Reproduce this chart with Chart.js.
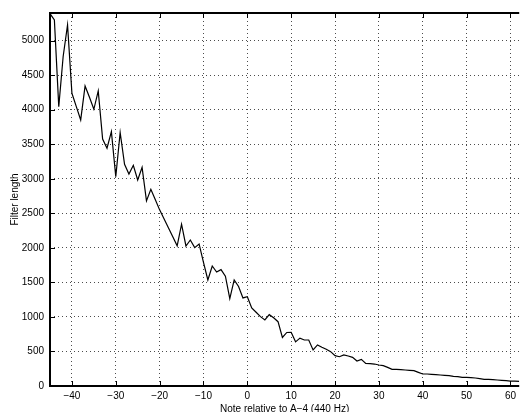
<!DOCTYPE html>
<html>
<head>
<meta charset="utf-8">
<script src="https://cdn.jsdelivr.net/npm/chart.js@4/dist/chart.umd.min.js"></script>
<style>
  html, body { margin: 0; padding: 0; background: #fff; }
  canvas { display: block; }
</style>
</head>
<body>
<canvas id="filterChart" width="520" height="412"></canvas>
<script>
// Notes relative to A-4 (440 Hz)
const notes = [
  -45, -44, -43, -42, -41, -40, -39, -38, -37, -36, -35, -34, -33, -32, -31, -30,
  -29, -28, -27, -26, -25, -24, -23, -22, -21, -20, -19, -18, -17, -16, -15, -14,
  -13, -12, -11, -10, -9, -8, -7, -6, -5, -4, -3, -2, -1, 0, 1, 2,
  3, 4, 5, 6, 7, 8, 9, 10, 11, 12, 13, 14, 15, 16, 17, 18,
  19, 20, 21, 22, 23, 24, 25, 26, 27, 28, 29, 30, 31, 32, 33, 34,
  35, 36, 37, 38, 39, 40, 41, 42, 43, 44, 45, 46, 47, 48, 49, 50,
  51, 52, 53, 54, 55, 56, 57, 58, 59, 60, 61, 62
];
// Filter length per note
const filterLength = [
  5390, 5300, 4045, 4770, 5227, 4238, 4045, 3852, 4344, 4180, 4006, 4272, 3575, 3442, 3683, 3031,
  3670, 3210, 3068, 3195, 2983, 3165, 2680, 2848, 2700, 2550, 2420, 2290, 2160, 2030, 2342, 2027,
  2114, 2003, 2056, 1790, 1535, 1738, 1650, 1685, 1590, 1265, 1535, 1440, 1275, 1293, 1130, 1067,
  1004, 956, 1033, 989, 931, 703, 775, 778, 639, 693, 666, 666, 521, 594, 560, 531,
  497, 439, 424, 449, 434, 415, 362, 386, 328, 323, 318, 304, 294, 270, 242, 242,
  237, 232, 227, 222, 198, 174, 174, 169, 164, 159, 154, 150, 140, 135, 125, 125,
  121, 116, 106, 96, 96, 92, 87, 82, 77, 72, 72, 68
];
const xTicks = [-40, -30, -20, -10, 0, 10, 20, 30, 40, 50, 60];
const yTicks = [0, 500, 1000, 1500, 2000, 2500, 3000, 3500, 4000, 4500, 5000];

const points = notes.map((n, i) => ({ x: n, y: filterLength[i] }));
const fontSpec = { family: "'Liberation Sans', Arial, Helvetica, sans-serif", size: 10 };

// box + inward tick marks, matlab style
const axesBox = {
  id: 'axesBox',
  afterDraw(chart) {
    const { ctx, chartArea: a, scales } = chart;
    ctx.save();
    ctx.strokeStyle = '#000';
    ctx.lineWidth = 1;
    ctx.beginPath();
    xTicks.forEach(v => {
      const px = Math.round(scales.x.getPixelForValue(v)) + 0.5;
      ctx.moveTo(px, a.bottom); ctx.lineTo(px, a.bottom - 5);
      ctx.moveTo(px, a.top); ctx.lineTo(px, a.top + 5);
    });
    yTicks.forEach(v => {
      const py = Math.round(scales.y.getPixelForValue(v)) + 0.5;
      ctx.moveTo(a.left, py); ctx.lineTo(a.left + 5, py);
    });
    ctx.stroke();
    ctx.lineWidth = 2;
    ctx.beginPath();
    ctx.moveTo(a.right, a.top);
    ctx.lineTo(a.left, a.top);
    ctx.lineTo(a.left, a.bottom);
    ctx.lineTo(a.right, a.bottom);
    ctx.stroke();
    ctx.restore();
  }
};

const ctx = document.getElementById('filterChart').getContext('2d');
const filterChart = new Chart(ctx, {
  type: 'line',
  data: {
    datasets: [{
      label: 'Filter length',
      data: points,
      borderColor: '#000',
      borderWidth: 1.2,
      pointRadius: 0,
      tension: 0,
      fill: false
    }]
  },
  options: {
    responsive: false,
    animation: false,
    layout: { padding: { top: 13, right: 0, left: 0, bottom: 0 } },
    plugins: { legend: { display: false }, tooltip: { enabled: false } },
    scales: {
      x: {
        type: 'linear',
        min: -45,
        max: 62,
        afterFit: s => { s.height = 26; },
        afterBuildTicks: s => { s.ticks = xTicks.map(v => ({ value: v })); },
        ticks: {
          color: '#000', font: fontSpec, padding: 4, maxRotation: 0,
          callback: v => String(v).replace('-', '\u2212')
        },
        grid: { color: 'rgba(0,0,0,0.7)', lineWidth: 1, drawTicks: false },
        border: { display: false, dash: [1, 3] },
        title: {
          display: true, text: 'Note relative to A\u22124 (440 Hz)',
          color: '#000', font: fontSpec, padding: { top: 0, bottom: -3 }
        }
      },
      y: {
        min: 0,
        max: 5400,
        afterFit: s => { s.width = 50; },
        afterBuildTicks: s => { s.ticks = yTicks.map(v => ({ value: v })); },
        ticks: { color: '#000', font: fontSpec, padding: 6, callback: v => String(v) },
        grid: { color: 'rgba(0,0,0,0.7)', lineWidth: 1, drawTicks: false },
        border: { display: false, dash: [1, 3] },
        title: {
          display: true, text: 'Filter length',
          color: '#000', font: fontSpec, padding: { top: 9, bottom: 0 }
        }
      }
    }
  },
  plugins: [axesBox]
});
</script>
</body>
</html>
